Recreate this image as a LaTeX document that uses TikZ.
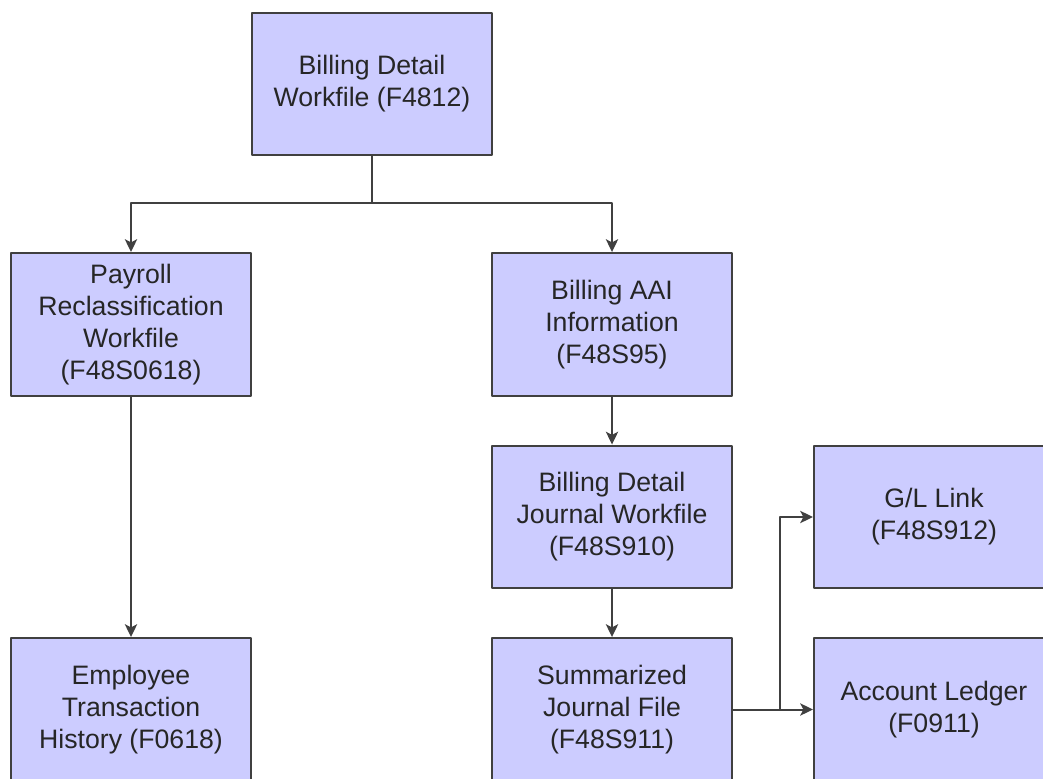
\documentclass[tikz,border=0pt]{standalone}
\usepackage{fontspec}
\setmainfont{Liberation Sans}
\usetikzlibrary{arrows.meta}
\definecolor{boxfill}{HTML}{CCCCFF}
\definecolor{boxline}{HTML}{404040}
\tikzset{
	filebox/.style={draw=boxline,fill=boxfill,line width=0.75pt,minimum width=90pt,minimum height=53.6pt,
		inner sep=1pt,align=center,text=black!85,font=\fontsize{10}{12}\selectfont},
	link/.style={draw=boxline,line width=0.75pt,->}
}
\begin{document}
\begin{tikzpicture}[line cap=round,line join=round,>={Stealth[length=4.8pt,width=4.6pt,inset=1.2pt]},x=0.375pt,y=-0.375pt]
		\useasboundingbox (0,0) rectangle (1043,779);
		\clip (0,0) rectangle (1043,779);
		% files
		\node[filebox] (bdw) at (372,84) {Billing Detail\\Workfile (F4812)};
		\node[filebox] (prw) at (131,324.5) {Payroll\\Reclassification\\Workfile\\(F48S0618)};
		\node[filebox] (aai) at (612,324.5) {Billing AAI\\Information\\(F48S95)};
		\node[filebox] (bdj) at (612,517) {Billing Detail\\Journal Workfile\\(F48S910)};
		\node[filebox] (sjf) at (612,709.5) {Summarized\\Journal File\\(F48S911)};
		\node[filebox] (eth) at (131,709.5) {Employee\\Transaction\\History (F0618)};
		\node[filebox] (glk) at (934,517) {G/L Link\\(F48S912)};
		\node[filebox] (acl) at (934,709.5) {Account Ledger\\(F0911)};
		% connectors
		\coordinate (split) at (372,203);
		\coordinate (fork) at (780,709.5);
		\draw[link,-] (bdw.south) -- (split);
		\draw[link] (split) -| (prw.north);
		\draw[link] (split) -| (aai.north);
		\draw[link] (prw) -- (eth);
		\draw[link] (aai) -- (bdj);
		\draw[link] (bdj) -- (sjf);
		\draw[link] (sjf) -- (acl);
		\draw[link] (fork) |- (glk.west);
	\end{tikzpicture}
\end{document}
